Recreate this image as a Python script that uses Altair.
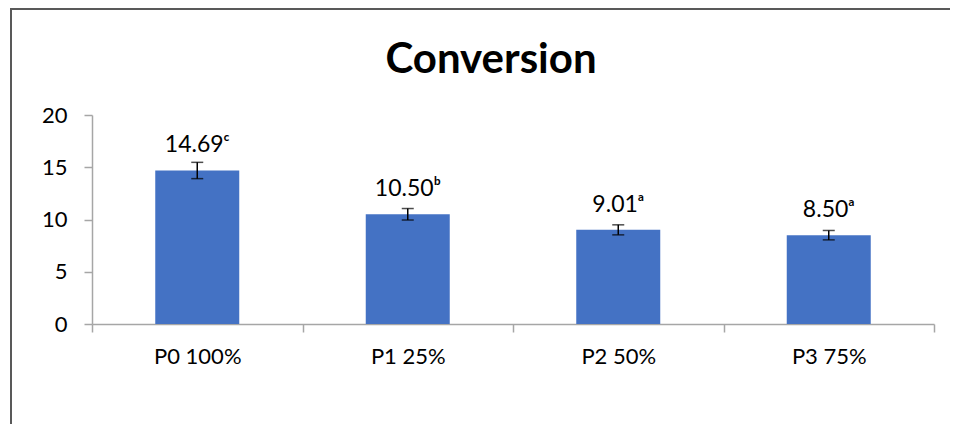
import altair as alt
import pandas as pd

title_text = ["Conversion"]
categories = ["P0 100%", "P1 25%", "P2 50%", "P3 75%"]
values = [14.69, 10.50, 9.01, 8.50]
errors = [0.78, 0.55, 0.48, 0.45]
letters = ["c", "b", "a", "a"]
y_ticks = [0, 5, 10, 15, 20]

sup = {"a": "\u1d43", "b": "\u1d47", "c": "\u1d9c"}

df = pd.DataFrame({
    "cat": categories,
    "value": values,
    "lo": [v - e for v, e in zip(values, errors)],
    "hi": [v + e for v, e in zip(values, errors)],
    "label": [f"{v:.2f}{sup[l]}" for v, l in zip(values, letters)],
})

FONT = "Lato"
AXIS_GRAY = "#a6a6a6"

x = alt.X("cat:N", sort=categories, title=None,
          scale=alt.Scale(paddingInner=0, paddingOuter=0),
          axis=alt.Axis(labelAngle=0, labelFont=FONT, labelFontSize=22,
                        labelColor="black", domainColor=AXIS_GRAY,
                        tickColor=AXIS_GRAY, tickSize=8, tickBand="extent",
                        labelPadding=14, domainWidth=1.5, tickWidth=1.5))
y = alt.Y("value:Q", title=None,
          scale=alt.Scale(domain=[0, 20], nice=False),
          axis=alt.Axis(values=y_ticks, grid=False, labelFont=FONT,
                        labelFontSize=22, labelColor="black",
                        domainColor=AXIS_GRAY, tickColor=AXIS_GRAY,
                        tickSize=8, labelPadding=17, domainWidth=1.5,
                        tickWidth=1.5))

base = alt.Chart(df)

bars = base.mark_bar(size=84, color="#4472C4").encode(x=x, y=y)

err_rule = base.mark_rule(color="black", strokeWidth=1.5).encode(
    x=alt.X("cat:N", sort=categories), y="lo:Q", y2="hi:Q")
cap_lo = base.mark_tick(color="black", size=12, thickness=1.5).encode(
    x=alt.X("cat:N", sort=categories), y="lo:Q")
cap_hi = base.mark_tick(color="black", size=12, thickness=1.5).encode(
    x=alt.X("cat:N", sort=categories), y="hi:Q")

labels = base.mark_text(font=FONT, fontSize=23, color="black",
                        baseline="alphabetic", align="center", dy=-18).encode(
    x=alt.X("cat:N", sort=categories), y="value:Q", text="label:N")

title = alt.Chart(pd.DataFrame({"t": title_text})).mark_text(
    font=FONT, fontSize=42, fontWeight="bold", color="black",
    align="center", baseline="alphabetic").encode(
    x=alt.value(399), y=alt.value(-42), text="t:N")

border_left = alt.Chart(df).mark_rule(color="#595959", strokeWidth=2).encode(
    x=alt.value(-81), y=alt.value(-107), y2=alt.value(400))
border_top = alt.Chart(df).mark_rule(color="#595959", strokeWidth=2).encode(
    x=alt.value(-81), x2=alt.value(900), y=alt.value(-106))

chart = alt.layer(bars, err_rule, cap_lo, cap_hi, labels, title,
                  border_left, border_top).properties(
    width=842, height=209,
    padding={"left": 84, "top": 107, "right": 16, "bottom": 100},
    autosize=alt.AutoSizeParams(type="none"),
).configure_view(stroke=None)

chart.save("out.html", embed_options={"renderer": "svg", "actions": False})
